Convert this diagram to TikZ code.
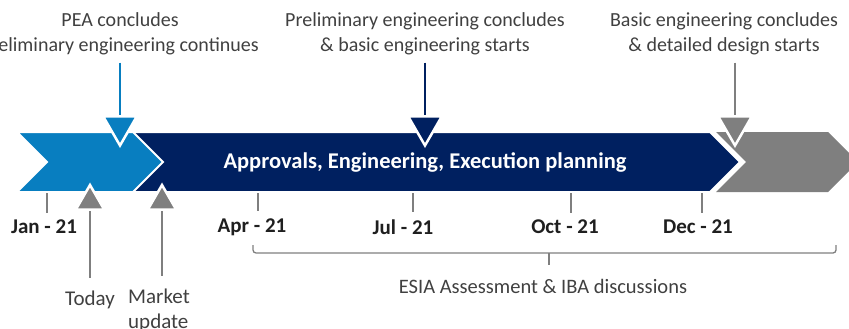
\documentclass[tikz,border=0pt]{standalone}
\usepackage{fontspec}
\setmainfont{Carlito}
\usetikzlibrary{shapes.geometric, positioning, calc}
\definecolor{phaseblue}{RGB}{8,126,192}
\definecolor{phasenavy}{RGB}{0,32,96}
\definecolor{phasegray}{RGB}{127,127,127}
\definecolor{textgray}{RGB}{64,64,64}

\begin{document}
\begin{tikzpicture}[
        x=1pt, y=-1pt,
        chevron/.style = {draw=white, line width=2pt, line join=miter},
        toplabel/.style = {align=center, inner sep=0pt, text=textgray, font=\fontsize{20}{25}\selectfont},
        datelabel/.style = {inner sep=0pt, text=black!88, font=\fontsize{21}{24}\selectfont\bfseries},
        downmark/.style = {regular polygon, regular polygon sides=3, shape border rotate=180, minimum size=39pt, inner sep=0pt, draw=white, line width=2.5pt},
        upmark/.style = {regular polygon, regular polygon sides=3, minimum size=33pt, inner sep=0pt, draw=white, line width=2.5pt, fill=phasegray},
        pin/.style = {line width=2pt},
        tick/.style = {draw=phasegray, line width=1.3pt}
    ]
        \useasboundingbox (0,0) rectangle (849,329);
        \clip (0,0) rectangle (849,329);

        % Phases
        \fill [phasegray] (716,132) -- (828,132) -- (858,162) -- (828,192) -- (716,192) -- (746,162) -- cycle;
        \draw [chevron, fill=phasenavy] (120,132) -- (710,132) -- (740,162) -- (710,192) -- (120,192) -- cycle;
        \draw [chevron, fill=phaseblue] (17,132) -- (133,132) -- (163,162) -- (133,192) -- (17,192) -- (47,162) -- cycle;
        \node (phase) [font=\fontsize{22.5}{26}\selectfont\bfseries, text=white] at (425,162) {Approvals, Engineering, Execution planning};

        % Milestones above
        \node (pea) [toplabel, anchor=north] at (120,12) {PEA concludes\\Preliminary engineering continues};
        \node (prelim) [toplabel, anchor=north] at (425,12) {Preliminary engineering concludes\\\& basic engineering starts};
        \node (basic) [toplabel, anchor=north] at (724,12) {Basic engineering concludes\\\& detailed design starts};

        \node (peamark) [downmark, fill=phaseblue, anchor=north] at (120,115) {};
        \node (prelimmark) [downmark, fill=phasenavy, anchor=north] at (425,115) {};
        \node (basicmark) [downmark, fill=phasegray, anchor=north] at (735,115) {};

        \draw [pin, draw=phaseblue, shorten <=8pt] (pea) -- (peamark);
        \draw [pin, draw=phasenavy, shorten <=8pt] (prelim) -- (prelimmark);
        \draw [pin, draw=phasegray, shorten <=8pt] (basicmark.north |- basic.south) -- (basicmark);

        % Milestones below
        \node (todaymark) [upmark, anchor=south] at (90,211) {};
        \node (marketmark) [upmark, anchor=south] at (162,211) {};
        \node (today) [toplabel, anchor=north, font=\fontsize{21}{25}\selectfont] at (90,291) {Today};
        \node (market) [toplabel, anchor=north west, align=left, font=\fontsize{21}{25}\selectfont] at (128,289) {Market\\update};
        \draw [pin, draw=phasegray, shorten >=13pt] (todaymark) -- (today);
        \draw [pin, draw=phasegray, shorten >=13pt] (marketmark) -- (marketmark |- market.north);

        % Dates
        \coordinate (tjan) at (47,193);
        \coordinate (tapr) at (258,193);
        \coordinate (tjul) at (413,193);
        \coordinate (toct) at (571,193);
        \coordinate (tdec) at (702,193);
        \node (jan) [datelabel] at (44,227) {Jan - 21};
        \node (apr) [datelabel] at (252,227) {Apr - 21};
        \node (jul) [datelabel] at (403,227) {Jul - 21};
        \node (oct) [datelabel] at (565,227) {Oct - 21};
        \node (dec) [datelabel] at (698,227) {Dec - 21};
        \draw [tick, shorten >=7pt] (tjan) -- (tjan |- jan.north);
        \draw [tick, shorten >=7pt] (tapr) -- (tapr |- apr.north);
        \draw [tick, shorten >=7pt] (tjul) -- (tjul |- jul.north);
        \draw [tick, shorten >=7pt] (toct) -- (toct |- oct.north);
        \draw [tick, shorten >=7pt] (tdec) -- (tdec |- dec.north);

        % ESIA bracket
        \draw [tick, rounded corners=3pt] (253,245) |- (549,253) -| (836,245);
        \draw [tick] (549,253) -- (549,265);
        \node (esia) [toplabel, font=\fontsize{20.5}{24}\selectfont] at (543,286) {ESIA Assessment \& IBA discussions};

    \end{tikzpicture}
\end{document}
